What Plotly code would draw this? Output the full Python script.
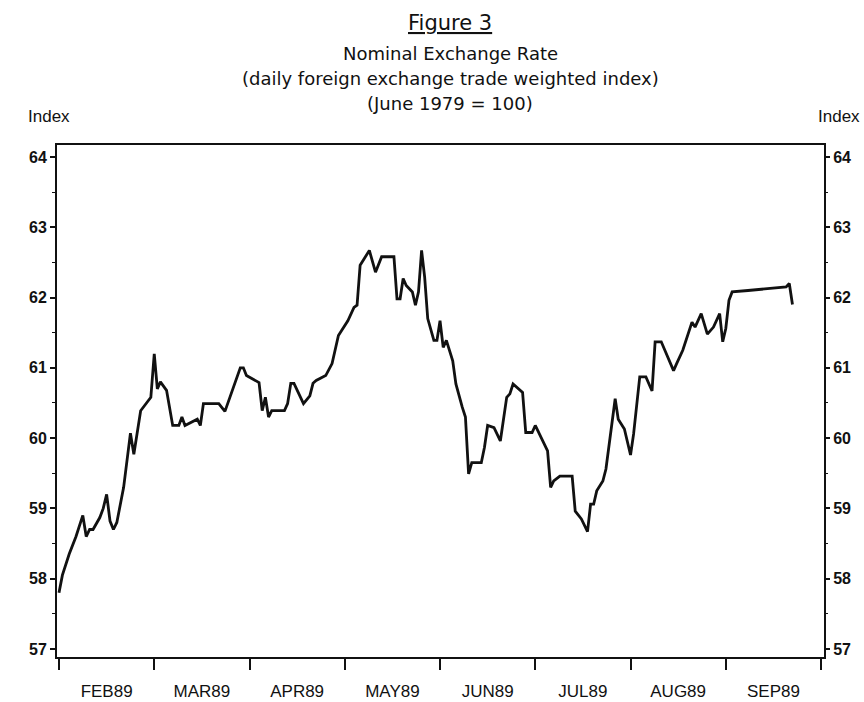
import calendar
import pandas as pd
import plotly.graph_objects as go

# ---- data ----
dates = [
    "1989-02-01", "1989-02-02", "1989-02-04", "1989-02-06", "1989-02-08", "1989-02-09",
    "1989-02-10", "1989-02-11", "1989-02-13", "1989-02-14", "1989-02-15", "1989-02-16",
    "1989-02-17", "1989-02-18", "1989-02-20", "1989-02-21", "1989-02-22", "1989-02-23",
    "1989-02-24", "1989-02-25", "1989-02-28",
    "1989-03-01", "1989-03-02", "1989-03-03", "1989-03-05", "1989-03-07", "1989-03-09",
    "1989-03-10", "1989-03-11", "1989-03-15", "1989-03-16", "1989-03-17", "1989-03-22",
    "1989-03-24", "1989-03-29", "1989-03-30", "1989-03-31",
    "1989-04-04", "1989-04-05", "1989-04-06", "1989-04-07", "1989-04-08", "1989-04-12",
    "1989-04-13", "1989-04-14", "1989-04-15", "1989-04-18", "1989-04-20", "1989-04-21",
    "1989-04-22", "1989-04-25", "1989-04-27", "1989-04-29",
    "1989-05-02", "1989-05-04", "1989-05-05", "1989-05-06", "1989-05-09", "1989-05-11",
    "1989-05-13", "1989-05-17", "1989-05-18", "1989-05-19", "1989-05-20", "1989-05-21",
    "1989-05-23", "1989-05-24", "1989-05-25", "1989-05-26", "1989-05-27", "1989-05-28",
    "1989-05-30", "1989-05-31",
    "1989-06-01", "1989-06-02", "1989-06-03", "1989-06-05", "1989-06-06", "1989-06-08",
    "1989-06-09", "1989-06-10", "1989-06-11", "1989-06-14", "1989-06-15", "1989-06-16",
    "1989-06-18", "1989-06-20", "1989-06-22", "1989-06-23", "1989-06-24", "1989-06-27",
    "1989-06-28", "1989-06-30",
    "1989-07-01", "1989-07-05", "1989-07-06", "1989-07-07", "1989-07-09", "1989-07-13",
    "1989-07-14", "1989-07-16", "1989-07-18", "1989-07-19", "1989-07-20", "1989-07-21",
    "1989-07-23", "1989-07-24", "1989-07-25", "1989-07-26", "1989-07-27", "1989-07-28",
    "1989-07-30",
    "1989-08-01", "1989-08-02", "1989-08-04", "1989-08-06", "1989-08-08", "1989-08-09",
    "1989-08-11", "1989-08-15", "1989-08-16", "1989-08-18", "1989-08-21", "1989-08-22",
    "1989-08-24", "1989-08-26", "1989-08-28", "1989-08-30", "1989-08-31",
    "1989-09-01", "1989-09-02", "1989-09-03", "1989-09-08", "1989-09-14", "1989-09-20",
    "1989-09-21", "1989-09-22",
]
index_values = [
    57.80, 58.05, 58.35, 58.60, 58.90, 58.60,
    58.70, 58.70, 58.87, 59.00, 59.20, 58.82,
    58.70, 58.80, 59.30, 59.68, 60.07, 59.77,
    60.08, 60.39, 60.58,
    61.20, 60.70, 60.80, 60.68, 60.18, 60.18,
    60.30, 60.18, 60.27, 60.18, 60.49, 60.49,
    60.38, 61.00, 61.00, 60.89,
    60.79, 60.39, 60.58, 60.30, 60.39, 60.39,
    60.49, 60.78, 60.78, 60.49, 60.60, 60.78,
    60.82, 60.89, 61.06, 61.46,
    61.67, 61.86, 61.89, 62.46, 62.67, 62.36,
    62.58, 62.58, 61.98, 61.98, 62.27, 62.17,
    62.08, 61.89, 62.08, 62.67, 62.29, 61.70,
    61.39, 61.39,
    61.67, 61.29, 61.39, 61.10, 60.77, 60.44,
    60.30, 59.49, 59.65, 59.65, 59.87, 60.18,
    60.15, 59.96, 60.58, 60.63, 60.77, 60.65,
    60.08, 60.08,
    60.18, 59.82, 59.30, 59.39, 59.46, 59.46,
    58.96, 58.85, 58.67, 59.06, 59.06, 59.25,
    59.39, 59.56, 59.87, 60.22, 60.56, 60.27,
    60.13,
    59.76, 60.06, 60.87, 60.87, 60.67, 61.37,
    61.37, 60.96, 61.06, 61.25, 61.65, 61.58,
    61.77, 61.48, 61.58, 61.77, 61.37,
    61.56, 61.96, 62.08, 62.10, 62.12, 62.15,
    62.20, 61.90,
]
month_labels = ["FEB89", "MAR89", "APR89", "MAY89", "JUN89", "JUL89", "AUG89", "SEP89"]
y_ticks = [57, 58, 59, 60, 61, 62, 63, 64]

# months are drawn with equal widths: position = months since 1 Feb 1989
d = pd.to_datetime(dates)
pos = [(t.month - 2) + (t.day - 1) / calendar.monthrange(t.year, t.month)[1] for t in d]

n_months = len(month_labels)
month_bounds = list(range(n_months + 1))
month_mids = [m + 0.5 for m in range(n_months)]

W, H = 864, 702
ML, MR, MT, MB = 57, 40, 145, 45
PW, PH = W - ML - MR, H - MT - MB

xr = [-0.021, n_months + 0.031]
yr = [56.886, 64.17]

tick_font = dict(family="Liberation Sans Narrow, Liberation Sans, Arial", size=16,
                 color="#111", weight=700)
lab_font = dict(family="Liberation Sans, Arial", size=17, color="#111")

fig = go.Figure()
fig.add_trace(go.Scatter(x=pos, y=index_values, mode="lines",
                         line=dict(color="#111", width=2.8), showlegend=False,
                         hoverinfo="skip"))
# invisible copy so the secondary axes (right-hand ticks, month labels) are drawn
fig.add_trace(go.Scatter(x=pos, y=index_values, mode="lines", xaxis="x2", yaxis="y2",
                         line=dict(color="rgba(0,0,0,0)", width=0), showlegend=False,
                         hoverinfo="skip"))

fig.update_layout(
    width=W, height=H,
    margin=dict(l=ML, r=MR, t=MT, b=MB, autoexpand=False),
    paper_bgcolor="white", plot_bgcolor="white",
    xaxis=dict(range=xr, tickvals=month_bounds, ticktext=[""] * len(month_bounds),
               ticks="outside", ticklen=11, tickwidth=1.6, tickcolor="#111",
               showline=True, linecolor="#111", linewidth=1.8, mirror=True,
               showgrid=False, zeroline=False, fixedrange=True),
    xaxis2=dict(range=xr, overlaying="x", anchor="y", side="bottom",
                tickvals=month_mids, ticktext=month_labels, tickfont=lab_font,
                ticks="outside", ticklen=19, tickcolor="rgba(0,0,0,0)",
                showline=False, showgrid=False, zeroline=False),
    yaxis=dict(range=yr, tickvals=y_ticks, tickfont=tick_font,
               ticks="outside", ticklen=5, tickwidth=1.6, tickcolor="#111",
               minor=dict(dtick=0.5, tick0=57, ticks="outside", ticklen=3,
                          tickwidth=1.2, tickcolor="#111"),
               showline=True, linecolor="#111", linewidth=1.8, mirror=True,
               showgrid=False, zeroline=False),
    yaxis2=dict(range=yr, overlaying="y", anchor="x", side="right",
                tickvals=y_ticks, tickfont=tick_font,
                ticks="outside", ticklen=5, tickwidth=1.6, tickcolor="#111",
                minor=dict(dtick=0.5, tick0=57, ticks="outside", ticklen=3,
                           tickwidth=1.2, tickcolor="#111"),
                showline=False, showgrid=False, zeroline=False),
)

title_font = "DejaVu Sans, Verdana, sans-serif"
title_cx = (450 - ML) / PW
titles = [
    ("<u>Figure 3</u>", 21, 23),
    ("Nominal Exchange Rate", 18, 53),
    ("(daily foreign exchange trade weighted index)", 18, 78),
    ("(June 1979 = 100)", 18, 103),
]
for text, size, ypx in titles:
    fig.add_annotation(text=text, xref="paper", yref="paper",
                       x=title_cx, y=1 - (ypx - MT) / PH,
                       xanchor="center", yanchor="middle", showarrow=False,
                       font=dict(family=title_font, size=size, color="#111"))

for xpx, anchor in [(26, "left"), (862, "right")]:
    fig.add_annotation(text="Index", xref="paper", yref="paper",
                       x=(xpx - ML) / PW, y=1 + (MT - 116) / PH,
                       xanchor=anchor, yanchor="middle", showarrow=False,
                       font=dict(family="Liberation Sans, Arial", size=17, color="#111"))

fig.write_html(
    "out.html",
    config={"displayModeBar": False},
    post_script="document.body.style.margin='0';document.body.style.overflow='hidden';",
)
